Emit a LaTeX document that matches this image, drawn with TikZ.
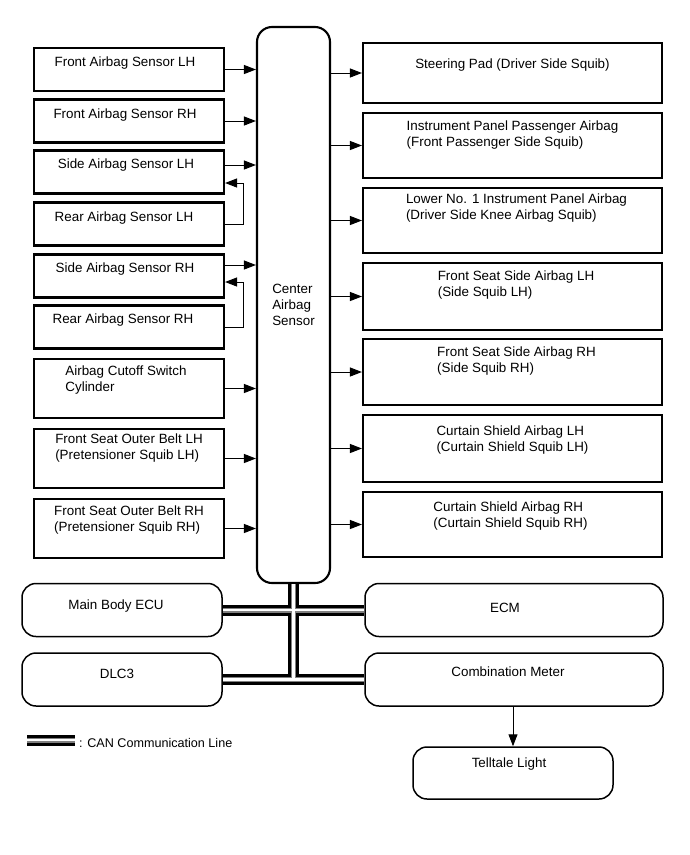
\documentclass[tikz,border=0pt]{standalone}
\usepackage{fontspec}
\setmainfont{Liberation Sans}
\usepackage{tikz}
\usetikzlibrary{arrows.meta,positioning}
\newcommand\fsz{\fontsize{13.4}{16}\selectfont}

\begin{document}
\begin{tikzpicture}[x=1pt,y=-1pt,
  sbox/.style={draw,line width=2.1pt,minimum width=190pt,minimum height=43pt,inner sep=0pt},
  tbox/.style={sbox,minimum width=299pt,minimum height=65pt},
  rbox/.style={draw,line width=1.5pt,rounded corners=14pt,minimum height=53pt,inner sep=0pt},
  txt/.style={inner sep=0pt,align=center,font=\fsz},
  ltxt/.style={txt,align=left},
  arr/.style={-{Triangle[length=12pt,width=9pt]},line width=1pt},
  can/.style={line width=11pt,postaction={draw,gray,line width=5pt},
              postaction={draw,white,line width=2.4pt}}
]
\useasboundingbox (0,0) rectangle (690,855);

% center unit
\node[draw,line width=2.1pt,rounded corners=15pt,minimum width=73pt,
      minimum height=556pt] (cas) at (293.5,305) {};
\node[ltxt] (cast) at (cas.center) {Center\\Airbag\\Sensor};

% sensors, left side
\node[sbox] (fal) at (129,69.5) {};
\node[txt,below=10pt of fal.north,xshift=-4pt] (falt) {Front Airbag Sensor LH};
\node[sbox] (far) at (129,121) {};
\node[txt,below=10pt of far.north,xshift=-4pt] (fart) {Front Airbag Sensor RH};
\node[sbox] (sl) at (129,172) {};
\node[txt,below=9pt of sl.north,xshift=-3pt] (slt) {Side Airbag Sensor LH};
\node[sbox] (rl) at (129,224) {};
\node[txt,below=10pt of rl.north,xshift=-5pt] (rlt) {Rear Airbag Sensor LH};
\node[sbox] (sr) at (129,276) {};
\node[txt,below=9pt of sr.north,xshift=-4pt] (srt) {Side Airbag Sensor RH};
\node[sbox] (rr) at (129,327) {};
\node[txt,below=9pt of rr.north,xshift=-6pt] (rrt) {Rear Airbag Sensor RH};
\node[sbox,minimum height=59pt] (cut) at (129,388.5) {};
\node[ltxt,below=8pt of cut.north,xshift=-3pt] (cutt) {Airbag Cutoff Switch\\Cylinder};
\node[sbox,minimum height=59pt] (bl) at (129,458.5) {};
\node[ltxt,below=6pt of bl.north] (blt) {Front Seat Outer Belt LH\\(Pretensioner Squib LH)};
\node[sbox,minimum height=59pt] (br) at (129,528.5) {};
\node[ltxt,below=8pt of br.north] (brt) {Front Seat Outer Belt RH\\(Pretensioner Squib RH)};

\draw[arr] (fal.east) -- (fal.east -| cas.west);
\draw[arr] (far.east) -- (far.east -| cas.west);
\draw[arr] ([yshift=7pt]sl.east) -- ([yshift=7pt]sl.east -| cas.west);
\draw[arr] (rl.east) -- ++(18,0) |- ([yshift=-11pt]sl.east);
\draw[arr] ([yshift=11pt]sr.east) -- ([yshift=11pt]sr.east -| cas.west);
\draw[arr] (rr.east) -- ++(18,0) |- ([yshift=-6pt]sr.east);
\draw[arr] (cut.east) -- (cut.east -| cas.west);
\draw[arr] (bl.east) -- (bl.east -| cas.west);
\draw[arr] (br.east) -- (br.east -| cas.west);

% squibs, right side
\node[tbox,minimum height=60pt] (sp) at (512.5,73) {};
\node[txt,below=17pt of sp.north] (spt) {Steering Pad (Driver Side Squib)};
\node[tbox] (ip) at (512.5,145.5) {};
\node[ltxt,below=9pt of ip.north] (ipt) {Instrument Panel Passenger Airbag\\(Front Passenger Side Squib)};
\node[tbox] (lo) at (512.5,220.5) {};
\node[ltxt,below=7pt of lo.north,xshift=4pt] (lot) {Lower No. 1 Instrument Panel Airbag\\(Driver Side Knee Airbag Squib)};
\node[tbox,minimum height=67pt] (fl) at (512.5,296.5) {};
\node[ltxt,below=9pt of fl.north,xshift=3.5pt] (flt) {Front Seat Side Airbag LH\\(Side Squib LH)};
\node[tbox,minimum height=66pt] (fr) at (512.5,372) {};
\node[ltxt,below=9pt of fr.north,xshift=4pt] (frt) {Front Seat Side Airbag RH\\(Side Squib RH)};
\node[tbox,minimum height=67pt] (cl) at (512.5,448.5) {};
\node[ltxt,below=12pt of cl.north] (clt) {Curtain Shield Airbag LH\\(Curtain Shield Squib LH)};
\node[tbox] (cr) at (512.5,524.5) {};
\node[ltxt,below=11pt of cr.north,xshift=-2pt] (crt) {Curtain Shield Airbag RH\\(Curtain Shield Squib RH)};

\foreach \b in {sp,ip,lo,fl,fr,cl,cr}
  \draw[arr] (\b.west -| cas.east) -- (\b.west);

% CAN bus
\node[rbox,minimum width=200pt] (mb) at (122,610) {};
\node[txt,below=17pt of mb.north,xshift=-6pt] (mbt) {Main Body ECU};
\node[rbox,minimum width=200pt] (dlc) at (122,679.5) {};
\node[txt,below=17pt of dlc.north,xshift=-5pt] (dlct) {DLC3};
\node[rbox,minimum width=298pt] (ecm) at (514,610) {};
\node[txt,below=20pt of ecm.north,xshift=-9pt] (ecmt) {ECM};
\node[rbox,minimum width=298pt] (cm) at (514,679.5) {};
\node[txt,below=14pt of cm.north,xshift=-6pt] (cmt) {Combination Meter};
\node[rbox,minimum width=200pt,minimum height=52pt] (tl) at (513,773) {};
\node[txt,below=11pt of tl.north,xshift=-4pt] (tlt) {Telltale Light};

\draw[can] (mb.east) -- (ecm.west) (dlc.east) -- (cm.west)
  (cas.south) -- (cas.south |- cm.west);
\draw[arr] (tl.north |- cm.south) -- (tl.north);

% legend
\coordinate (lg1) at (27,740);
\coordinate (lg2) at (75,740);
\draw[can] (lg1) -- (lg2);
\node[txt,anchor=west,font=\fontsize{12.6}{15}\selectfont] (lgt) at (79,743) {: CAN Communication Line};
\end{tikzpicture}
\end{document}
